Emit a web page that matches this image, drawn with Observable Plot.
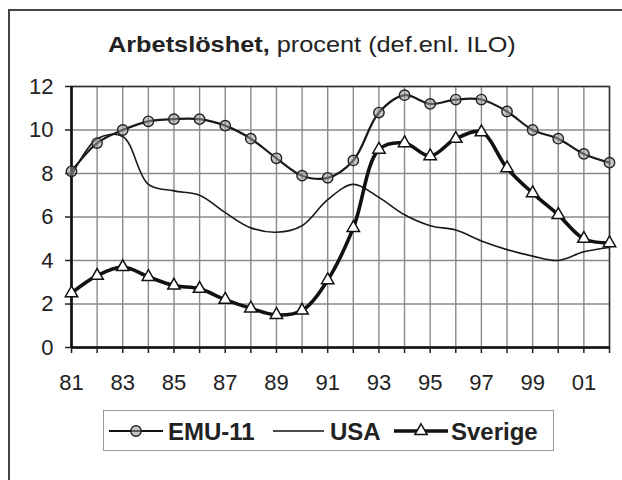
<!DOCTYPE html>
<html>
<head>
<meta charset="utf-8">
<script src="https://cdn.jsdelivr.net/npm/d3@7"></script>
<script src="https://cdn.jsdelivr.net/npm/@observablehq/plot@0.6"></script>
<style>
  html, body { margin: 0; padding: 0; background: #fff; }
  #wrap { position: relative; width: 622px; height: 480px; overflow: hidden; font-family: "Liberation Sans", Arial, sans-serif; color: #222; }
  #frame { position: absolute; left: 8px; top: 9px; width: 700px; height: 600px; border-top: 2px solid #444; border-left: 2px solid #444; }
  #title { position: absolute; left: 108px; top: 34px; font-size: 22px; line-height: 1; white-space: nowrap; transform: scaleX(1.15); transform-origin: left center; color: #222; }
  #title b { font-weight: bold; }
  #chart { position: absolute; left: 0; top: 0; }
  #legend { position: absolute; left: 103px; top: 410px; width: 449px; height: 39px; border: 1.5px solid #999; background: #fff; }
  #legend svg { position: absolute; left: 0; top: 0; }
</style>
</head>
<body>
<div id="wrap">
  <div id="frame"></div>
  <div id="chart"></div>
  <div id="title"><b>Arbetslöshet,</b> procent (def.enl. ILO)</div>
  <div id="legend"></div>
</div>
<script>
const years = [1981,1982,1983,1984,1985,1986,1987,1988,1989,1990,1991,1992,1993,1994,1995,1996,1997,1998,1999,2000,2001,2002];
const emu11 = [8.1,9.4,10.0,10.4,10.5,10.5,10.2,9.6,8.7,7.9,7.8,8.6,10.8,11.6,11.2,11.4,11.4,10.85,10.0,9.6,8.9,8.5];
const usa   = [7.9,9.6,9.7,7.5,7.2,7.0,6.2,5.5,5.3,5.6,6.8,7.5,6.9,6.1,5.6,5.4,4.9,4.5,4.2,4.0,4.4,4.6];
const sverige = [2.5,3.3,3.7,3.25,2.85,2.7,2.2,1.8,1.5,1.7,3.1,5.5,9.1,9.4,8.8,9.6,9.9,8.25,7.1,6.1,5.0,4.8];
const yTicks = [0,2,4,6,8,10,12];
const xLabelYears = [1981,1983,1985,1987,1989,1991,1993,1995,1997,1999,2001];
const seriesNames = ["EMU-11","USA","Sverige"];

const rows = years.map((y,i) => ({year: y, emu: emu11[i], usa: usa[i], swe: sverige[i]}));

const chart = Plot.plot({
  width: 622,
  height: 400,
  marginLeft: 71,
  marginRight: 13,
  marginTop: 86,
  marginBottom: 53,
  style: {fontFamily: "'Liberation Sans', Arial, sans-serif", fontSize: "22px", color: "#222", background: "transparent"},
  x: {domain: [1981, 2002], label: null},
  y: {domain: [0, 12], label: null},
  marks: [
    Plot.ruleX(years, {x: d => d, stroke: "#8a8a8a", strokeWidth: 1.4}),
    Plot.ruleY(yTicks, {y: d => d, stroke: "#8a8a8a", strokeWidth: 1.4}),
    Plot.frame({stroke: "#333", strokeWidth: 1.5}),
    Plot.ruleY([0], {stroke: "#111", strokeWidth: 2.6}),
    Plot.ruleX([1981], {stroke: "#111", strokeWidth: 2.6}),
    Plot.axisY({ticks: yTicks, tickSize: 6, tickPadding: 12, fontSize: 22, label: null, stroke: "#222", strokeWidth: 1.5}),
    Plot.axisX({ticks: years, tickSize: 6, tickFormat: () => "", label: null, stroke: "#222", strokeWidth: 1.5}),
    Plot.axisX({ticks: xLabelYears, tickSize: 0, tickPadding: 27, fontSize: 22, tickFormat: d => String(d).slice(2), label: null}),
    Plot.line(rows, {x: "year", y: "usa", curve: "catmull-rom", stroke: "#1a1a1a", strokeWidth: 1.6}),
    Plot.line(rows, {x: "year", y: "emu", curve: "catmull-rom", stroke: "#1a1a1a", strokeWidth: 2.2}),
    Plot.line(rows, {x: "year", y: "swe", curve: "catmull-rom", stroke: "#111", strokeWidth: 3.6}),
    Plot.dot(rows, {x: "year", y: "emu", r: 5.2, fill: "#999", fillOpacity: 0.55, stroke: "#222", strokeWidth: 1.4}),
    Plot.dot(rows, {x: "year", y: "swe", symbol: "triangle", r: 4.6, fill: "#fff", stroke: "#111", strokeWidth: 1.5})
  ]
});
document.getElementById("chart").appendChild(chart);

// Legend
const lg = d3.select("#legend").append("svg").attr("width", 452).attr("height", 42);
const cy = 20;
const items = [
  {name: seriesNames[0], x1: 5, x2: 59, tx: 64, marker: "circle", sw: 2.2},
  {name: seriesNames[1], x1: 169, x2: 220, tx: 226, marker: null, sw: 1.6},
  {name: seriesNames[2], x1: 290, x2: 344, tx: 347, marker: "triangle", sw: 3.6}
];
items.forEach(it => {
  lg.append("line").attr("x1", it.x1).attr("x2", it.x2).attr("y1", cy).attr("y2", cy).attr("stroke", "#111").attr("stroke-width", it.sw);
  const mx = (it.x1 + it.x2) / 2;
  if (it.marker === "circle") {
    lg.append("circle").attr("cx", mx).attr("cy", cy).attr("r", 5.2).attr("fill", "#999").attr("fill-opacity", 0.55).attr("stroke", "#222").attr("stroke-width", 1.4);
  } else if (it.marker === "triangle") {
    lg.append("path").attr("d", d3.symbol(d3.symbolTriangle, Math.PI * 4.6 * 4.6)()).attr("transform", `translate(${mx},${cy})`).attr("fill", "#fff").attr("stroke", "#111").attr("stroke-width", 1.5);
  }
  lg.append("text").attr("x", it.tx).attr("y", cy).attr("dy", "0.36em").attr("font-family", "'Liberation Sans', Arial, sans-serif").attr("font-weight", "bold").attr("font-size", 24).attr("fill", "#222").text(it.name);
});
</script>
</body>
</html>
